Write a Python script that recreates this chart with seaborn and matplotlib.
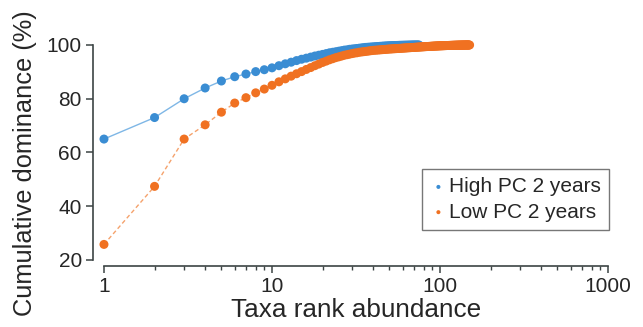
import numpy as np
import pandas as pd
import seaborn as sns
import matplotlib.pyplot as plt
from matplotlib.ticker import LogLocator, FixedLocator, NullFormatter

# cumulative dominance (%) by taxa rank
high_pc = [
    65.0, 73.0, 80.0, 84.0, 86.6, 88.2, 89.2, 90.1, 90.8, 91.5,
    92.3, 93.0, 93.6, 94.2, 94.7, 95.1, 95.5, 95.9, 96.2, 96.5,
    96.8, 97.1, 97.3, 97.5, 97.7, 97.9, 98.1, 98.2, 98.4, 98.5,
    98.6, 98.7, 98.8, 98.9, 99.0, 99.1, 99.15, 99.2, 99.25, 99.3,
    99.35, 99.4, 99.45, 99.5, 99.54, 99.58, 99.62, 99.65, 99.68, 99.71,
    99.74, 99.76, 99.78, 99.8, 99.82, 99.84, 99.86, 99.88, 99.89, 99.9,
    99.91, 99.92, 99.93, 99.94, 99.95, 99.96, 99.97, 99.98, 99.99, 100.0,
    100.0, 100.0, 100.0, 100.0, 100.0,
]
low_pc = [
    25.8, 47.4, 65.0, 70.3, 75.0, 78.4, 80.4, 82.2, 83.6, 85.0,
    86.3, 87.4, 88.4, 89.3, 90.1, 90.9, 91.6, 92.3, 92.9, 93.5,
    94.0, 94.5, 94.9, 95.3, 95.6, 95.9, 96.2, 96.4, 96.6, 96.8,
    97.0, 97.1, 97.3, 97.4, 97.5, 97.6, 97.7, 97.8, 97.9, 98.0,
    98.05, 98.1, 98.15, 98.2, 98.25, 98.3, 98.35, 98.4, 98.45, 98.5,
    98.53, 98.56, 98.6, 98.63, 98.66, 98.7, 98.73, 98.76, 98.8, 98.83,
    98.86, 98.89, 98.92, 98.95, 98.98, 99.0, 99.03, 99.06, 99.08, 99.11,
    99.14, 99.16, 99.19, 99.21, 99.24, 99.26, 99.29, 99.31, 99.33, 99.35,
    99.37, 99.39, 99.41, 99.43, 99.45, 99.47, 99.49, 99.51, 99.53, 99.55,
    99.56, 99.58, 99.6, 99.61, 99.63, 99.64, 99.66, 99.67, 99.69, 99.7,
    99.71, 99.72, 99.73, 99.74, 99.75, 99.76, 99.77, 99.78, 99.79, 99.8,
    99.81, 99.82, 99.83, 99.84, 99.85, 99.86, 99.86, 99.87, 99.88, 99.89,
    99.89, 99.9, 99.91, 99.91, 99.92, 99.93, 99.93, 99.94, 99.94, 99.95,
    99.95, 99.96, 99.96, 99.97, 99.97, 99.97, 99.98, 99.98, 99.98, 99.99,
    99.99, 99.99, 99.99, 100.0, 100.0, 100.0, 100.0, 100.0, 100.0, 100.0,
]
labels = ["High PC 2 years", "Low PC 2 years"]
x_ticks = [1, 10, 100, 1000]
y_ticks = [20, 40, 60, 80, 100]

df = pd.concat([
    pd.DataFrame({"rank": np.arange(1, len(high_pc) + 1), "dom": high_pc, "group": labels[0]}),
    pd.DataFrame({"rank": np.arange(1, len(low_pc) + 1), "dom": low_pc, "group": labels[1]}),
])

dot_colors = {labels[0]: "#3a8dd3", labels[1]: "#f07121"}
line_colors = {labels[0]: "#7fb7e6", labels[1]: "#f5a26c"}

sns.set_style("ticks")
plt.rcParams["font.family"] = ["Liberation Sans", "DejaVu Sans"]

fig = plt.figure(figsize=(6.43, 3.27), dpi=100)
ax = fig.add_axes([0.1617, 0.2049, 0.7839, 0.6575])

sns.lineplot(data=df, x="rank", y="dom", hue="group", style="group",
             palette=line_colors, dashes={labels[0]: "", labels[1]: (3, 2)},
             linewidth=1.0, legend=False, ax=ax, clip_on=False)
for g in labels:
    sns.scatterplot(data=df[df["group"] == g], x="rank", y="dom", color=dot_colors[g],
                    s=42, edgecolor="none", label=g, ax=ax, clip_on=False, zorder=3)

ax.set_xscale("log")
ax.set_xlim(1, 1000)
ax.set_ylim(20, 100)
ax.xaxis.set_major_locator(FixedLocator(x_ticks))
ax.set_xticklabels([str(t) for t in x_ticks])
ax.xaxis.set_minor_locator(LogLocator(base=10, subs=np.arange(2, 10)))
ax.xaxis.set_minor_formatter(NullFormatter())
ax.set_yticks(y_ticks)

sns.despine(ax=ax)
ax.spines["left"].set_position(("outward", 8))
ax.spines["bottom"].set_position(("outward", 4.5))
for s in ["left", "bottom"]:
    ax.spines[s].set_color("#3c4444")
    ax.spines[s].set_linewidth(1.2)
ax.tick_params(axis="both", which="major", length=5, width=1.1, color="#3c4444",
               labelsize=15, pad=3)
ax.tick_params(axis="x", which="minor", length=3, width=1.0, color="#3c4444")

ax.set_xlabel("Taxa rank abundance", fontsize=18.8, labelpad=1)
ax.set_ylabel("Cumulative dominance (%)", fontsize=18.3)
ax.yaxis.set_label_coords(-0.133, 0.45)

leg = ax.legend(loc="upper right", bbox_to_anchor=(1.002, 0.423), borderaxespad=0,
                fontsize=15, frameon=True, fancybox=False, markerscale=0.45,
                handletextpad=0.1, handlelength=0.8, borderpad=0.4, labelspacing=0.3)
leg.get_frame().set_edgecolor("#555555")
leg.get_frame().set_linewidth(1.0)

fig.savefig("out.png", dpi=100)
